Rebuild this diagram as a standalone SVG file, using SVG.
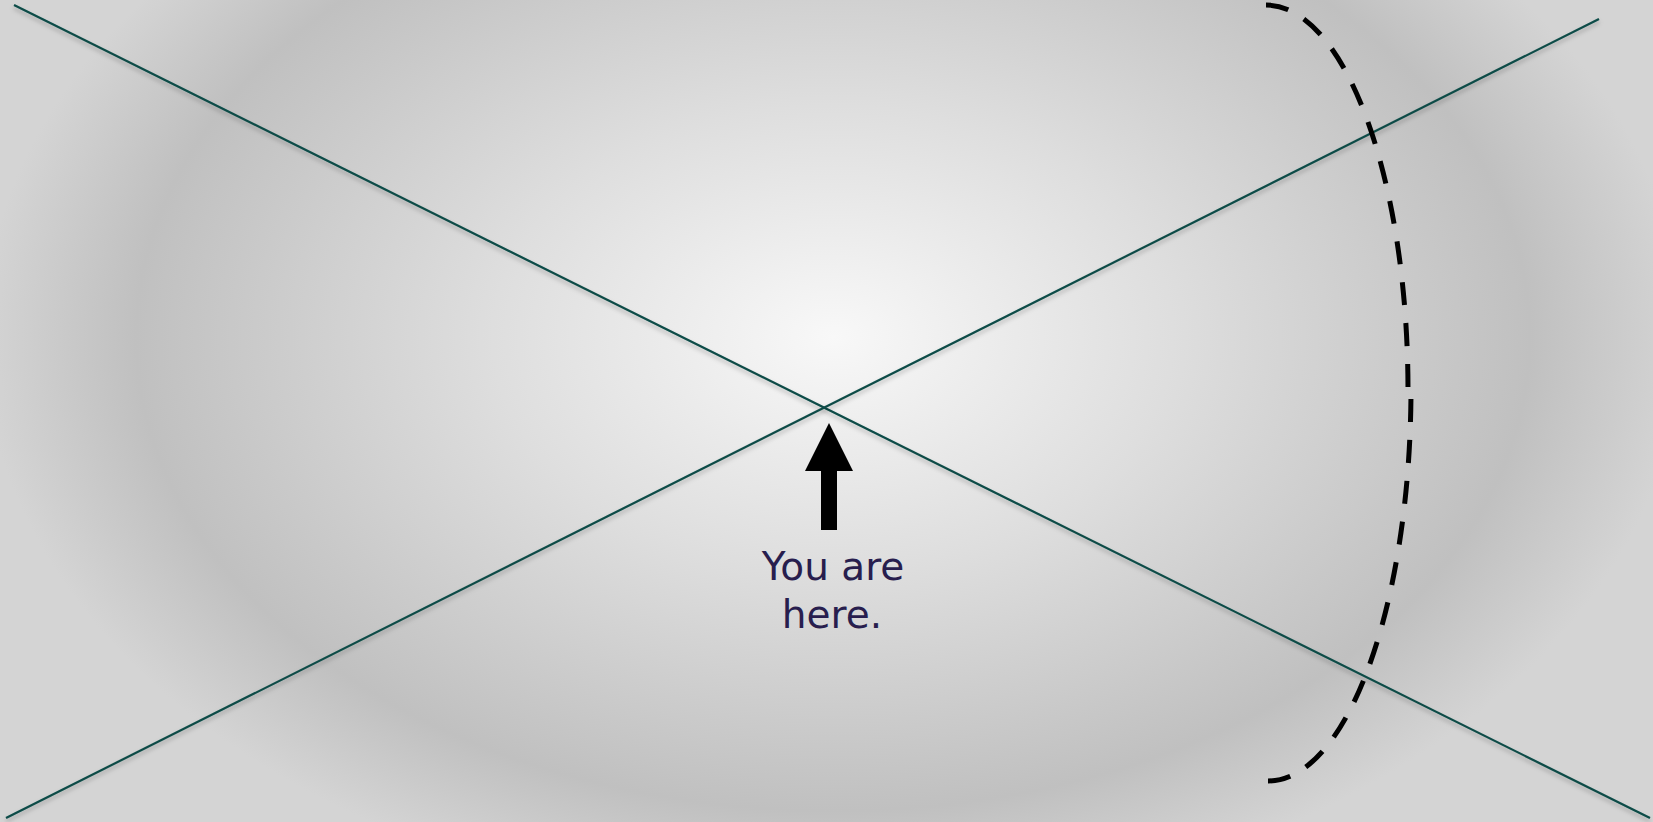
<svg xmlns="http://www.w3.org/2000/svg" width="1653" height="822" viewBox="0 0 1653 822">
<defs>
<radialGradient id="bg" gradientUnits="userSpaceOnUse" cx="833" cy="337" r="850" gradientTransform="translate(833 337) scale(1 0.68) translate(-833 -337)">
<stop offset="0" stop-color="#f8f8f8"/>
<stop offset="0.4" stop-color="#dedede"/>
<stop offset="0.82" stop-color="#c0c0c0"/>
<stop offset="1" stop-color="#d4d4d4"/>
</radialGradient>
<filter id="sh" x="-5%" y="-5%" width="110%" height="110%">
<feDropShadow dx="0" dy="3" stdDeviation="2" flood-color="#000" flood-opacity="0.25"/>
</filter>
</defs>
<style>
.ax{stroke:#0b4b47;stroke-width:2.2;fill:none;filter:url(#sh)}
.dash{stroke:#000;stroke-width:5;fill:none;stroke-dasharray:23 18}
.lbl{font-family:"DejaVu Sans",Verdana,sans-serif;font-size:39px;fill:#281e4e;text-anchor:middle}
</style>
<rect width="1653" height="822" fill="url(#bg)"/>
<g id="connectors">
<line class="ax" x1="14" y1="5" x2="1650" y2="818"/>
<line class="ax" x1="6" y1="818" x2="1599" y2="19"/>
<path class="dash" d="M1266,5 A142,385 0 0 1 1408,390"/>
<path class="dash" d="M1268,781 A143,393 0 0 0 1411,388"/>
</g>
<g id="marker">
<polygon points="829,423 853,471 837,471 837,530 821,530 821,471 805,471" fill="#000"/>
<text class="lbl" x="833" y="580">You are</text>
<text class="lbl" x="832" y="628">here.</text>
</g>
</svg>
